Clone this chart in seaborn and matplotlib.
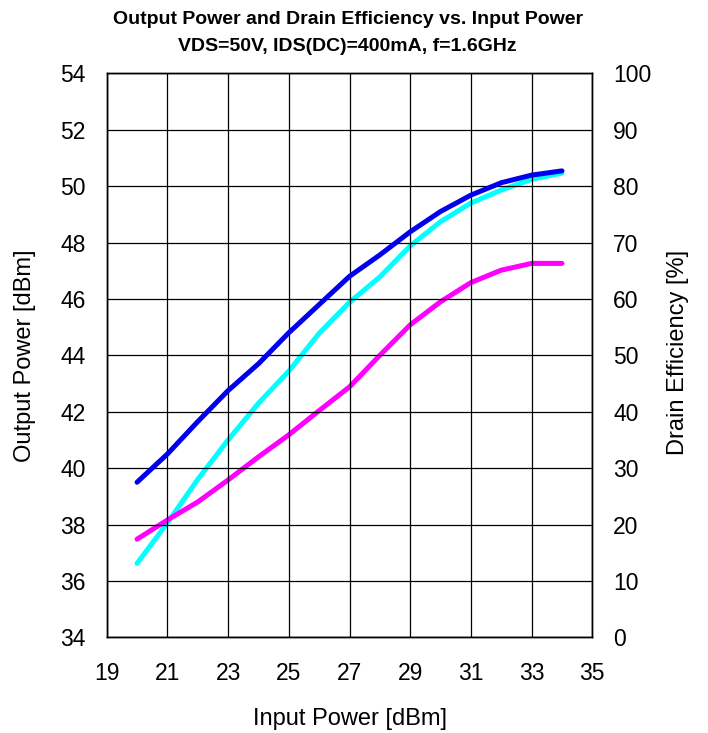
import pandas as pd
import matplotlib
matplotlib.use('Agg')
import matplotlib.pyplot as plt
import seaborn as sns

# data
pin = [20, 21, 22, 23, 24, 25, 26, 27, 28, 29, 30, 31, 32, 33, 34]
pout = [39.5, 40.5, 41.65, 42.75, 43.7, 44.8, 45.8, 46.8, 47.56, 48.38, 49.1, 49.68, 50.12, 50.39, 50.54]
eff_cyan = [13.1, 20.3, 28.0, 35.0, 41.5, 47.2, 53.9, 59.4, 63.9, 69.4, 73.7, 77.0, 79.3, 81.2, 82.3]
eff_magenta = [17.4, 20.8, 24.0, 27.9, 32.0, 35.9, 40.2, 44.4, 50.0, 55.4, 59.5, 62.9, 65.1, 66.3, 66.3]

x_ticks = [19, 21, 23, 25, 27, 29, 31, 33, 35]
left_ticks = list(range(34, 55, 2))
right_ticks = list(range(0, 101, 10))

df = pd.DataFrame({'pin': pin, 'pout': pout, 'cyan': eff_cyan, 'magenta': eff_magenta})

sns.set_style('white')
plt.rcParams['font.family'] = ['Liberation Sans', 'DejaVu Sans']
plt.rcParams['text.color'] = 'black'
plt.rcParams['axes.labelcolor'] = 'black'

fig = plt.figure(figsize=(7.08, 7.33), dpi=100)
ax = fig.add_axes([0.1507, 0.1305, 0.6859, 0.7695])
ax2 = ax.twinx()

sns.lineplot(data=df, x='pin', y='cyan', ax=ax2, color='#00FFFF', lw=3.6,
             solid_capstyle='round', solid_joinstyle='round')
sns.lineplot(data=df, x='pin', y='magenta', ax=ax2, color='#FF00FF', lw=3.6,
             solid_capstyle='round', solid_joinstyle='round')
sns.lineplot(data=df, x='pin', y='pout', ax=ax, color='#0000EE', lw=3.6,
             solid_capstyle='round', solid_joinstyle='round')
# blue line drawn on top of the twin axes
ax.set_zorder(ax2.get_zorder() + 1)
ax.patch.set_visible(False)

ax.set_xlim(19, 35)
ax.set_ylim(34, 54)
ax2.set_ylim(0, 100)
ax.set_xticks(x_ticks)
ax.set_yticks(left_ticks)
ax2.set_yticks(right_ticks)

ax.grid(True, color='black', lw=0.9)
ax2.grid(False)
for a in (ax, ax2):
    for s in a.spines.values():
        s.set_color('black')
        s.set_linewidth(1.0)
    a.tick_params(length=0, labelsize=16.5, colors='black')
ax.tick_params(axis='y', pad=15)
ax.tick_params(axis='x', pad=18)
ax2.tick_params(axis='y', pad=15)

ax.set_xlabel('Input Power [dBm]', fontsize=17, color='black')
ax.set_ylabel('Output Power [dBm]', fontsize=17, color='black')
ax2.set_ylabel('Drain Efficiency [%]', fontsize=17, color='black')
ax.xaxis.set_label_coords(0.5, -0.125)
ax.yaxis.set_label_coords(-0.146, 0.5)
ax2.yaxis.set_label_coords(1.153, 0.505)

fig.text(0.491, 0.974, 'Output Power and Drain Efficiency vs. Input Power',
         ha='center', va='center', fontsize=14, fontweight='bold', color='black')
fig.text(0.491, 0.936, 'VDS=50V, IDS(DC)=400mA, f=1.6GHz',
         ha='center', va='center', fontsize=14, fontweight='bold', color='black')

fig.savefig('out.png', dpi=100)
